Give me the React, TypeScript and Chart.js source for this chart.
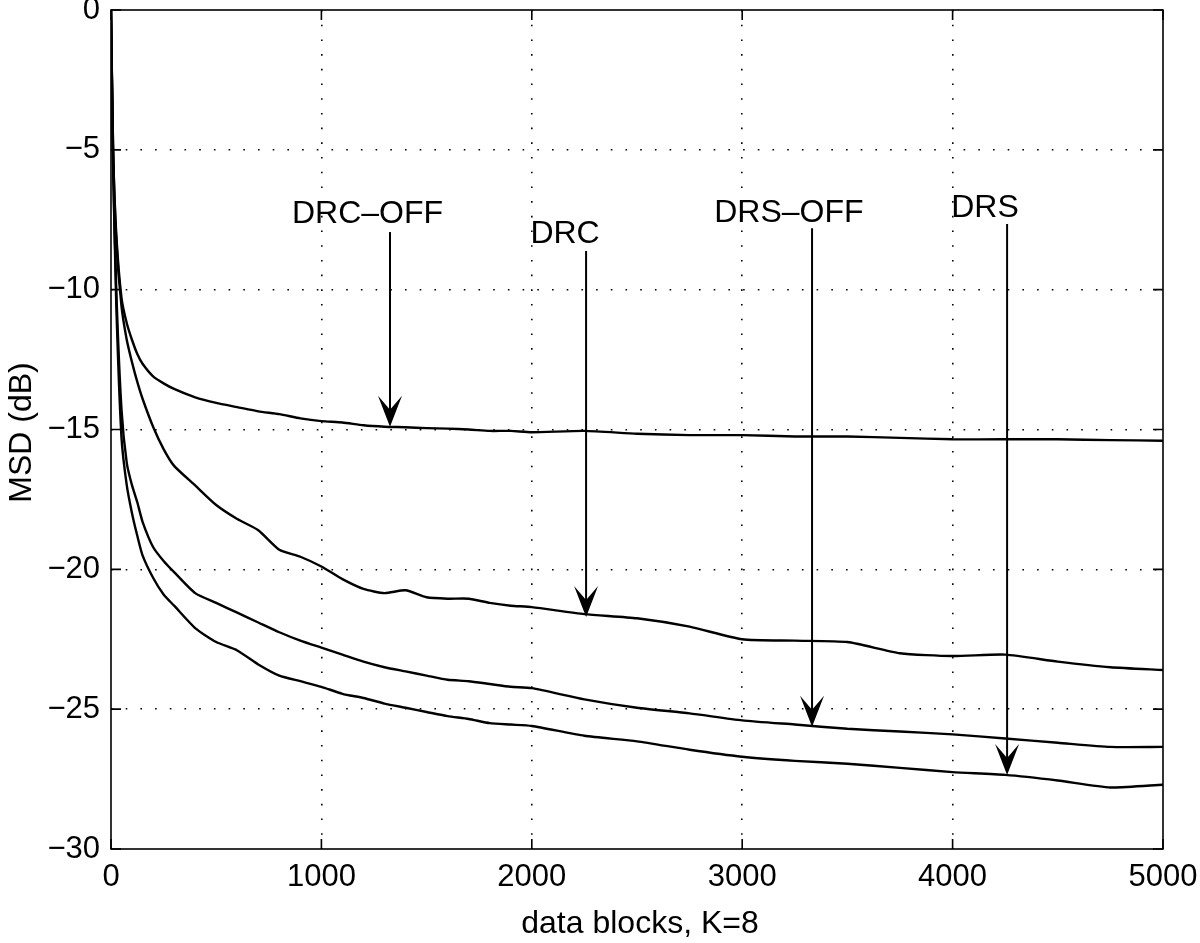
import React, { useEffect, useRef } from "react";
import { Chart, registerables } from "chart.js";

Chart.register(...registerables);

// data blocks (x positions of sampled readings)
const blocks = [0, 10, 25, 50, 75, 100, 125, 150, 200, 250, 300, 400, 500, 600, 700, 800, 900, 1000, 1100, 1200, 1300, 1400, 1500, 1600, 1700, 1800, 1900, 2000, 2250, 2500, 2750, 3000, 3250, 3500, 3750, 4000, 4250, 4500, 4750, 5000];

const drcOff = [0, -5, -8, -10.3, -11.2, -11.8, -12.3, -12.65, -13.1, -13.35, -13.55, -13.85, -14.05, -14.2, -14.35, -14.45, -14.6, -14.7, -14.75, -14.85, -14.9, -14.92, -14.95, -14.97, -15.0, -15.05, -15.05, -15.1, -15.05, -15.15, -15.2, -15.2, -15.25, -15.25, -15.3, -15.35, -15.35, -15.35, -15.38, -15.4];
const drc = [0, -5, -8.2, -10.6, -11.8, -12.6, -13.3, -13.9, -14.9, -15.7, -16.3, -17.0, -17.7, -18.2, -18.6, -19.3, -19.55, -19.9, -20.35, -20.7, -20.85, -20.75, -21.0, -21.05, -21.05, -21.2, -21.3, -21.35, -21.6, -21.75, -22.05, -22.5, -22.55, -22.6, -23.0, -23.1, -23.05, -23.3, -23.5, -23.6];
const drsOff = [0, -5.5, -10, -14.3, -16.2, -17.0, -17.6, -18.3, -19.2, -19.7, -20.1, -20.85, -21.2, -21.55, -21.9, -22.25, -22.55, -22.8, -23.05, -23.3, -23.5, -23.65, -23.8, -23.95, -24.0, -24.1, -24.2, -24.25, -24.65, -24.95, -25.15, -25.4, -25.55, -25.7, -25.8, -25.9, -26.05, -26.2, -26.35, -26.35];
const drs = [0, -5.5, -10.5, -15.3, -17.0, -18.0, -18.8, -19.5, -20.3, -20.9, -21.3, -22.1, -22.6, -22.9, -23.4, -23.8, -24.0, -24.2, -24.45, -24.6, -24.8, -24.95, -25.1, -25.25, -25.35, -25.5, -25.55, -25.6, -25.95, -26.15, -26.45, -26.7, -26.85, -26.95, -27.1, -27.25, -27.35, -27.55, -27.8, -27.7];

const xTickValues = [0, 1000, 2000, 3000, 4000, 5000];
const yTickValues = [0, -5, -10, -15, -20, -25, -30];

// annotations (in data units)
const noteLabels = ["DRC\u2013OFF", "DRC", "DRS\u2013OFF", "DRS"];
const noteTextX = [1219, 2158, 3222, 4154];
const noteTextY = [-7.62, -8.33, -7.58, -7.4];
const arrowX = [1326, 2258, 3332, 4259];
const arrowFrom = [-7.94, -8.62, -7.8, -7.65];
const arrowTo = [-14.9, -21.7, -25.63, -27.35];

const xTitle = "data blocks, K=8";
const yTitle = "MSD (dB)";

const FONT = "'Liberation Sans', Arial, Helvetica, sans-serif";

const fmt = (v: number) => (v < 0 ? "\u2212" + Math.abs(v) : String(v));

const decorPlugin = {
  id: "decor",
  afterDraw(chart: any) {
    const { ctx, chartArea } = chart;
    const xs = chart.scales.x;
    const ys = chart.scales.y;
    const { left, right, top, bottom } = chartArea;
    ctx.save();
    ctx.strokeStyle = "#000";
    ctx.lineWidth = 1.6;
    ctx.setLineDash([]);
    ctx.strokeRect(left, top, right - left, bottom - top);
    const tl = 10;
    ctx.beginPath();
    xTickValues.forEach((v) => {
      const px = xs.getPixelForValue(v);
      ctx.moveTo(px, bottom);
      ctx.lineTo(px, bottom - tl);
      ctx.moveTo(px, top);
      ctx.lineTo(px, top + tl);
    });
    yTickValues.forEach((v) => {
      const py = ys.getPixelForValue(v);
      ctx.moveTo(left, py);
      ctx.lineTo(left + tl, py);
      ctx.moveTo(right, py);
      ctx.lineTo(right - tl, py);
    });
    ctx.stroke();

    // annotations
    ctx.fillStyle = "#000";
    ctx.font = `32px ${FONT}`;
    ctx.textAlign = "center";
    ctx.textBaseline = "alphabetic";
    noteLabels.forEach((lab, i) => {
      ctx.fillText(lab, xs.getPixelForValue(noteTextX[i]), ys.getPixelForValue(noteTextY[i]));
      const ax = xs.getPixelForValue(arrowX[i]);
      const y0 = ys.getPixelForValue(arrowFrom[i]);
      const y1 = ys.getPixelForValue(arrowTo[i]);
      ctx.lineWidth = 2;
      ctx.beginPath();
      ctx.moveTo(ax, y0);
      ctx.lineTo(ax, y1 - 15);
      ctx.stroke();
      ctx.beginPath();
      ctx.moveTo(ax, y1);
      ctx.lineTo(ax - 12, y1 - 31);
      ctx.lineTo(ax, y1 - 17);
      ctx.lineTo(ax + 12, y1 - 31);
      ctx.closePath();
      ctx.fill();
    });

    // axis titles
    ctx.font = `32px ${FONT}`;
    ctx.textAlign = "center";
    ctx.textBaseline = "alphabetic";
    ctx.fillText(xTitle, (left + right) / 2 + 3, 933);
    ctx.translate(31, (top + bottom) / 2 + 3);
    ctx.rotate(-Math.PI / 2);
    ctx.fillText(yTitle, 0, 0);
    ctx.restore();
  },
};

export default function App() {
  const ref = useRef<HTMLCanvasElement>(null);
  useEffect(() => {
    if (!ref.current) return;
    const mk = (label: string, vals: number[]) => ({
      label,
      data: blocks.map((b, i) => ({ x: b, y: vals[i] })),
      borderColor: "#000",
      backgroundColor: "#000",
      borderWidth: 2.4,
      pointRadius: 0,
      tension: 0.2,
      fill: false,
    });
    const gridColor = (edges: number[]) => (c: any) =>
      c.tick && edges.includes(c.tick.value) ? "rgba(0,0,0,0)" : "#000";
    const chart = new Chart(ref.current, {
      type: "line",
      data: {
        datasets: [
          mk("DRC-OFF", drcOff),
          mk("DRC", drc),
          mk("DRS-OFF", drsOff),
          mk("DRS", drs),
        ],
      },
      plugins: [decorPlugin],
      options: {
        animation: false,
        responsive: false,
        maintainAspectRatio: false,
        layout: { padding: { left: 0, top: 10, right: 37, bottom: 0 } },
        plugins: { legend: { display: false }, tooltip: { enabled: false } },
        scales: {
          x: {
            type: "linear",
            min: 0,
            max: 5000,
            afterFit: (s: any) => {
              s.height = 94;
              s.paddingLeft = 0;
              s.paddingRight = 0;
            },
            afterBuildTicks: (s: any) => {
              s.ticks = xTickValues.map((v) => ({ value: v }));
            },
            ticks: {
              font: { size: 31, family: FONT },
              color: "#000",
              padding: 10,
              maxRotation: 0,
              autoSkip: false,
              callback: (v: any) => fmt(Number(v)),
            },
            grid: {
              color: gridColor([0, 5000]),
              lineWidth: 1.6,
              drawTicks: false,
            },
            border: { display: false, dash: [1.6, 13.1] },
          },
          y: {
            type: "linear",
            min: -30,
            max: 0,
            afterFit: (s: any) => {
              s.width = 111;
              s.paddingTop = 0;
              s.paddingBottom = 0;
            },
            afterBuildTicks: (s: any) => {
              s.ticks = yTickValues.map((v) => ({ value: v }));
            },
            ticks: {
              font: { size: 31, family: FONT },
              color: "#000",
              padding: 11,
              autoSkip: false,
              callback: (v: any) => fmt(Number(v)),
            },
            grid: {
              color: gridColor([0, -30]),
              lineWidth: 1.6,
              drawTicks: false,
            },
            border: { display: false, dash: [1.6, 13.1] },
          },
        },
      },
    });
    return () => chart.destroy();
  }, []);
  return (
    <div style={{ position: "fixed", left: 0, top: 0, width: 1200, height: 943, background: "#fff" }}>
      <canvas ref={ref} width={1200} height={943} style={{ width: 1200, height: 943 }} />
    </div>
  );
}
